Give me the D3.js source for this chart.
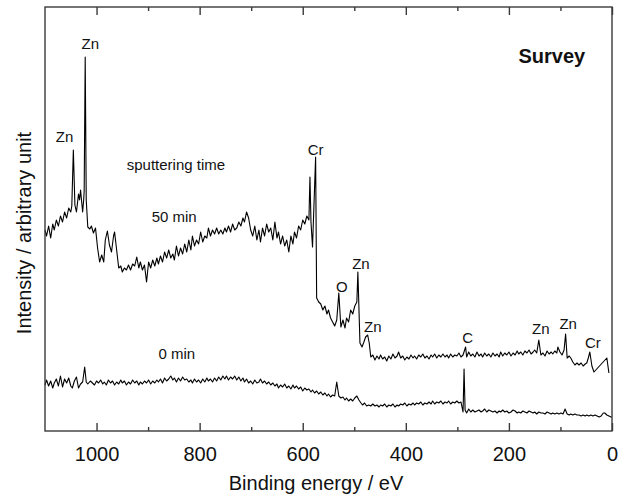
<!DOCTYPE html>
<html>
<head>
<meta charset="utf-8">
<script src="https://cdn.jsdelivr.net/npm/d3@7"></script>
<style>
  html, body { margin: 0; padding: 0; background: #fff; }
  svg { display: block; font-family: "Liberation Sans", Arial, sans-serif; }
</style>
</head>
<body>
<svg id="chart" width="624" height="500"></svg>
<script>
// XPS survey spectra of the coating after 50 min and 0 min of sputtering.
// Each entry: [binding energy (eV), intensity (arbitrary unit)].
const spectrum50 = [
  [1100,201],[1097,195],[1093,205],[1089,193],[1085,207],[1082,201],[1078,211],[1074,205],[1070,215],[1066,209],
  [1062,219],[1058,213],[1054,223],[1050,219],[1048,225],[1045,281],[1042,226],[1039,219],[1035,237],[1033,231],
  [1031,241],[1027,219],[1025,231],[1024,240],[1022,374],[1020,231],[1017,204],[1013,202],[1010,205],[1006,198],
  [1002,203],[998,183],[994,169],[990,176],[986,169],[983,191],[979,200],[975,186],[971,179],[967,195],
  [965,199],[961,181],[957,163],[953,165],[950,159],[946,163],[942,161],[938,166],[934,161],[930,167],
  [926,165],[922,174],[918,163],[915,169],[911,161],[907,166],[903,149],[899,169],[895,163],[891,171],
  [887,165],[883,173],[880,167],[876,175],[872,169],[868,179],[864,173],[860,181],[856,173],[852,177],
  [849,171],[845,185],[841,175],[837,183],[833,177],[829,187],[825,179],[821,191],[817,181],[814,195],
  [810,185],[806,191],[802,187],[798,199],[794,189],[790,195],[786,193],[783,203],[779,195],[775,201],
  [771,197],[767,203],[763,197],[759,201],[755,197],[751,203],[748,199],[744,205],[740,199],[736,207],
  [732,201],[728,203],[724,209],[720,205],[716,213],[713,209],[709,219],[705,213],[701,201],[697,195],
  [693,205],[689,191],[685,201],[682,189],[678,203],[674,195],[670,207],[666,199],[662,203],[658,191],
  [654,209],[650,193],[647,199],[643,187],[639,195],[635,185],[631,191],[627,179],[623,195],[619,187],
  [616,199],[612,193],[608,205],[604,201],[600,211],[596,207],[592,215],[588,211],[586,254],[584,209],
  [581,184],[575,274],[573,133],[569,129],[565,127],[561,121],[557,125],[553,117],[550,121],[546,113],
  [542,109],[538,105],[534,111],[530,138],[526,104],[522,111],[518,103],[515,113],[511,109],[507,121],
  [503,117],[499,125],[495,129],[493,159],[489,88],[485,84],[482,88],[478,94],[474,96],[471,88],
  [468,74],[464,76],[460,71],[456,75],[452,72],[449,76],[445,72],[441,74],[437,70],[433,75],
  [429,72],[425,77],[421,73],[417,75],[414,79],[410,73],[406,75],[402,71],[398,74],[394,72],
  [390,76],[386,73],[383,75],[379,72],[375,76],[371,74],[367,77],[363,73],[359,75],[355,72],
  [351,76],[348,74],[344,77],[340,73],[336,76],[332,74],[328,77],[324,74],[320,76],[317,73],
  [313,77],[309,74],[305,76],[301,75],[297,78],[293,74],[289,76],[284,84],[282,74],[278,79],
  [274,75],[270,77],[266,74],[262,79],[258,75],[254,77],[251,74],[247,78],[243,75],[239,77],
  [235,74],[231,78],[227,75],[223,77],[219,74],[216,79],[212,75],[208,78],[204,76],[200,79],
  [196,75],[192,78],[188,76],[184,80],[181,77],[177,79],[173,76],[169,80],[165,78],[161,81],
  [157,77],[153,79],[150,81],[146,78],[142,91],[138,76],[134,78],[130,75],[126,80],[122,77],
  [118,79],[115,77],[111,80],[107,78],[105,84],[101,79],[97,76],[93,81],[90,97],[87,73],
  [83,75],[80,73],[76,69],[72,66],[68,68],[64,66],[60,68],[56,65],[52,67],[49,68],
  [46,73],[43,79],[39,65],[35,59],[10,73],[6,58]
];

const spectrum0 = [
  [1100,46],[1097,51],[1093,45],[1089,50],[1085,43],[1082,48],[1078,52],[1074,45],[1070,55],[1066,44],
  [1062,52],[1058,48],[1054,53],[1050,45],[1047,43],[1043,50],[1039,54],[1035,43],[1031,47],[1027,49],
  [1023,64],[1020,49],[1017,47],[1012,50],[1008,48],[1004,46],[1000,50],[996,48],[992,51],[988,47],
  [985,49],[981,46],[977,51],[973,48],[969,50],[965,46],[961,49],[957,47],[953,51],[950,48],
  [946,50],[942,46],[938,49],[934,47],[930,51],[926,48],[922,50],[918,46],[915,49],[911,47],
  [907,50],[903,48],[899,51],[895,47],[891,50],[887,48],[883,51],[880,49],[876,52],[872,48],
  [868,53],[864,50],[860,52],[856,55],[852,51],[849,53],[845,49],[841,53],[837,50],[833,54],
  [829,51],[825,52],[821,49],[817,51],[814,48],[810,52],[806,49],[802,51],[798,48],[794,52],
  [790,49],[786,53],[783,50],[779,52],[775,49],[771,53],[767,50],[763,54],[759,51],[755,55],
  [751,52],[748,55],[744,51],[740,54],[736,52],[732,55],[728,51],[724,54],[720,50],[716,53],
  [713,49],[709,52],[705,48],[701,50],[697,47],[693,51],[689,48],[685,49],[682,52],[678,48],
  [674,50],[670,47],[666,49],[662,46],[658,48],[654,45],[650,47],[647,43],[643,46],[639,44],
  [635,47],[631,43],[627,45],[623,42],[619,46],[616,43],[612,45],[608,42],[604,44],[600,40],
  [596,43],[592,41],[588,42],[584,39],[581,41],[577,38],[573,40],[569,37],[565,39],[561,36],
  [557,38],[553,35],[550,37],[546,34],[542,36],[538,35],[534,49],[530,35],[526,33],[522,34],
  [518,31],[515,33],[511,30],[507,32],[503,30],[499,33],[495,35],[491,31],[487,28],[484,26],
  [480,28],[476,25],[472,26],[468,25],[464,27],[460,25],[456,26],[452,24],[449,26],[445,25],
  [441,27],[437,24],[433,26],[429,25],[425,27],[421,24],[417,26],[414,25],[410,27],[406,26],
  [402,28],[398,25],[394,27],[390,26],[386,28],[383,26],[379,28],[375,27],[371,29],[367,26],
  [363,28],[359,27],[355,29],[351,27],[348,30],[344,27],[340,29],[336,28],[332,30],[328,27],
  [324,29],[320,28],[317,30],[313,27],[309,29],[305,28],[301,30],[297,28],[293,29],[289,19],
  [287,62],[285,21],[282,18],[278,22],[274,19],[270,21],[266,19],[262,20],[258,21],[254,19],
  [251,20],[247,22],[243,19],[239,21],[235,20],[231,19],[227,20],[223,18],[219,20],[216,19],
  [212,21],[208,19],[204,20],[200,18],[196,19],[192,21],[188,20],[184,18],[181,19],[177,18],
  [173,20],[169,19],[165,18],[161,20],[157,19],[153,18],[150,19],[146,17],[142,19],[138,18],
  [134,18],[130,17],[126,19],[122,18],[118,17],[115,18],[111,17],[107,18],[103,17],[99,18],
  [95,17],[91,22],[87,17],[83,16],[80,17],[76,16],[72,17],[68,16],[64,16],[60,15],
  [56,16],[52,15],[49,16],[45,15],[41,16],[37,15],[33,16],[29,15],[25,14],[21,15],
  [17,18],[14,18],[10,16],[6,15],[2,14],[0,14]
];

// Peak assignments: element, label anchor energy (eV), label anchor intensity.
const peakNames      = ["Zn", "Zn", "Cr", "O", "Zn", "Zn", "C", "Zn", "Zn", "Cr"];
const peakEnergies   = [1062, 1012, 575, 524, 487, 464, 280, 138, 85, 37];
const peakIntensity  = [289, 382, 276, 139, 162, 99, 88, 97, 102, 83];

// Axis ticks
const majorTicks = [1000, 800, 600, 400, 200, 0];
const minorTicks = [900, 700, 500, 300, 100];

const xDomain = [1100, 0];
const yDomain = [0, 424];

const svg = d3.select("#chart");
const plot = { left: 45, right: 612, top: 7, bottom: 431 };

const x = d3.scaleLinear().domain(xDomain).range([plot.left, plot.right]);
const y = d3.scaleLinear().domain(yDomain).range([plot.bottom, plot.top]);

const frameColor = "#3a3a3a";

// Spectra
const line = d3.line().x(d => x(d[0])).y(d => y(d[1]));
[spectrum50, spectrum0].forEach(s => {
  svg.append("path")
    .datum(s)
    .attr("fill", "none")
    .attr("stroke", "#000")
    .attr("stroke-width", 1.1)
    .attr("stroke-linejoin", "round")
    .attr("d", line);
});

// Frame
svg.append("rect")
  .attr("x", plot.left).attr("y", plot.top)
  .attr("width", plot.right - plot.left).attr("height", plot.bottom - plot.top)
  .attr("fill", "none").attr("stroke", frameColor).attr("stroke-width", 1.4);

function styleTicks(g) {
  g.select(".domain").remove();
  g.selectAll(".tick line").attr("stroke", frameColor).attr("stroke-width", 1.4);
}

// Bottom axis: labels with inward ticks
const bottomAxis = svg.append("g").attr("transform", `translate(0,${plot.bottom})`);
bottomAxis.call(d3.axisBottom(x).tickValues(majorTicks).tickSize(-8).tickPadding(16).tickFormat(d3.format("d")));
styleTicks(bottomAxis);
bottomAxis.selectAll(".tick text")
  .attr("font-family", "Liberation Sans, Arial, sans-serif")
  .attr("font-size", 20).attr("fill", "#111");

const bottomMinor = svg.append("g").attr("transform", `translate(0,${plot.bottom})`);
bottomMinor.call(d3.axisBottom(x).tickValues(minorTicks).tickSize(-4).tickFormat(""));
styleTicks(bottomMinor);

// Top axis: inward ticks only
const topAxis = svg.append("g").attr("transform", `translate(0,${plot.top})`);
topAxis.call(d3.axisTop(x).tickValues(majorTicks).tickSize(-8).tickFormat(""));
styleTicks(topAxis);

const topMinor = svg.append("g").attr("transform", `translate(0,${plot.top})`);
topMinor.call(d3.axisTop(x).tickValues(minorTicks).tickSize(-4).tickFormat(""));
styleTicks(topMinor);

// Axis titles
svg.append("text")
  .attr("x", 316).attr("y", 490)
  .attr("text-anchor", "middle")
  .attr("font-size", 20).attr("fill", "#111")
  .text("Binding energy / eV");

svg.append("text")
  .attr("transform", `translate(31,233) rotate(-90)`)
  .attr("text-anchor", "middle")
  .attr("font-size", 20).attr("fill", "#111")
  .text("Intensity / arbitrary unit");

// Peak labels
const annot = svg.append("g").attr("font-size", 15).attr("fill", "#111");
peakNames.forEach((name, i) => {
  annot.append("text")
    .attr("x", x(peakEnergies[i]))
    .attr("y", y(peakIntensity[i]))
    .attr("text-anchor", "middle")
    .text(name);
});

// Sputtering-time notes
annot.append("text").attr("x", x(846)).attr("y", y(261))
  .attr("text-anchor", "middle").text("sputtering time");
annot.append("text").attr("x", x(893)).attr("y", y(209))
  .attr("text-anchor", "start").text("50 min");
annot.append("text").attr("x", x(880)).attr("y", y(72))
  .attr("text-anchor", "start").text("0 min");

// Panel title
svg.append("text")
  .attr("x", x(52)).attr("y", y(368))
  .attr("text-anchor", "end")
  .attr("font-size", 20).attr("font-weight", "bold").attr("fill", "#111")
  .text("Survey");
</script>
</body>
</html>
